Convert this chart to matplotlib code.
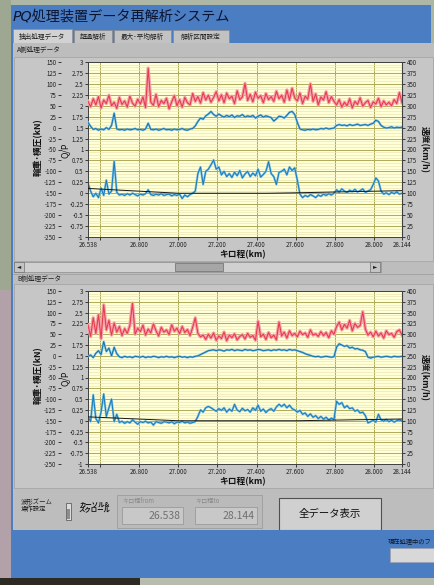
import numpy as np
import matplotlib
matplotlib.use("Agg")
import matplotlib.pyplot as plt
from matplotlib.patches import Rectangle

plt.rcParams['font.family'] = ['Noto Sans CJK JP', 'DejaVu Sans']
plt.rcParams['axes.unicode_minus'] = False

# ---- data ----
km_start, km_end = 26.538, 28.144
xtick_vals = [26.538, 26.6, 26.8, 27.0, 27.2, 27.4, 27.6, 27.8, 28.0, 28.144]
xtick_labels = ['26.538', '', '26.800', '27.000', '27.200', '27.400',
                '27.600', '27.800', '28.000', '28.144']

# A side: wheel load (kN), lateral force (kN), Q/P, speed (km/h)
a_red = [60, 48, 66, 52, 71, 45, 63, 55, 74, 50,
         58, 44, 69, 53, 61, 47, 72, 56, 49, 65,
         54, 70, 46, 136, 58, 51, 76, 48, 62, 55,
         67, 43, 59, 73, 50, 64, 47, 69, 57, 52,
         78, 60, 71, 56, 80, 63, 74, 58, 69, 82,
         61, 75, 57, 79, 66, 72, 55, 84, 64, 70,
         101, 62, 76, 59, 81, 67, 73, 57, 78, 64,
         71, 60, 83, 66, 74, 58, 86, 63, 90, 68,
         61, 79, 55, 72, 65, 100, 60, 77, 52, 70,
         63, 82, 57, 71, 60, 52, 64, 47, 58, 50,
         66, 45, 60, 53, 68, 49, 57, 62, 46, 59,
         54, 67, 48, 61, 52, 58, 50, 64, 55, 80, 57]
a_btop = [12, 3, -4, -2, -6, -3, -5, 0, -4, 5,
          33, -3, -5, -4, -6, -3, -5, -4, -2, -5,
          -4, -6, -3, 10, -4, -5, -3, -6, -4, -2,
          -5, -4, -6, -3, -5, -4, -2, -5, -6, -3,
          -2, 4, 14, 22, 19, 27, 31, 37, 30, 26,
          31, 27, 24, 28, 25, 29, 23, 27, 26, 30,
          24, 27, 25, 28, 22, 26, 29, 24, 27, 25,
          23, 15, 20, 26, 25, 22, 28, 35, 37, 30,
          12, -3, -5, -6, -4, -5, -3, -5, -4, -2,
          -3, -1, -3, -2, -1, 5, 7, 5, 6, 4,
          7, 5, 6, 8, 5, 6, 7, 5, 8, 10,
          17, 14, 5, 1, -1, 0, 2, -1, 1, 0, 1]
a_qp = [0.23, 0.05, -0.08, 0.0, -0.1, 0.12, -0.05, 0.3, -0.02, 0.05,
        0.73, 0.02, -0.04, -0.02, -0.05, -0.01, -0.04, 0.0, -0.03, -0.06,
        -0.02, -0.04, -0.01, 0.08, -0.03, -0.05, -0.02, -0.04, -0.01, -0.05,
        -0.03, -0.02, -0.06, -0.03, -0.05, -0.02, -0.12, -0.04, -0.08, -0.03,
        0.0, 0.05, 0.45, 0.6, 0.2, 0.5, 0.55, 0.65, 0.76, 0.55,
        0.6, 0.42, 0.5, 0.38, 0.45, 0.36, 0.48, 0.4, 0.52, 0.35,
        0.44, 0.5, 0.38, 0.46, 0.4, 0.55, 0.37, 0.43, 0.5, 0.72,
        0.45, 0.38, 0.2, 0.48, 0.5, 0.55, 0.42, 0.6, 0.52, 0.58,
        0.3, -0.02, -0.1, -0.05, -0.08, -0.03, -0.06, -0.1, -0.04, -0.07,
        -0.02, -0.05, -0.01, -0.04, 0.0, 0.08, 0.03, 0.1, 0.05, 0.02,
        0.07, 0.04, 0.09, 0.03, 0.06, 0.1, 0.02, 0.05, 0.08, 0.2,
        0.35, 0.28, 0.05, -0.02, 0.01, -0.03, 0.02, -0.01, 0.03, -0.02, 0.0]
speed_km = [26.538, 27.0, 27.45, 27.6, 28.144]
a_speed = [111, 100, 100, 101, 106]

# B side
b_red = [72, 45, 88, 52, 95, 40, 118, 60, 82, 48,
         76, 55, 68, 47, 63, 52, 70, 122, 50, 64,
         56, 71, 48, 62, 53, 74, 58, 46, 66, 55,
         60, 49, 72, 57, 64, 51, 68, 54, 61, 47,
         66, 88, 52, 44, 48, 38, 50, 41, 53, 36,
         46, 40, 55, 35, 48, 42, 51, 37, 45, 49,
         39, 52, 43, 47, 36, 80, 44, 50, 38, 54,
         42, 48, 37, 78, 46, 55, 41, 58, 47, 52,
         44, 57, 49, 53, 43, 60, 48, 51, 45, 56,
         47, 54, 42, 58, 50, 68, 78, 60, 73, 64,
         82, 58, 75, 66, 70, 102, 62, 48, 55, 44,
         57, 46, 53, 41, 58, 49, 52, 43, 56, 60, 48]
b_btop = [-1, 2, -4, 6, 12, 3, 33, 10, 18, 0,
          20, 5, -2, -4, -1, -3, -2, -4, -1, -2,
          -3, -1, -4, -2, -3, -1, -2, -4, -2, -3,
          -1, -3, -2, -4, -2, -1, -3, -2, -4, -2,
          -3, -1, 0, 3, 6, 9, 12, 13, 14, 12,
          14, 13, 11, 14, 13, 15, 12, 14, 13, 12,
          15, 13, 14, 12, 13, 15, 14, 12, 13, 14,
          12, 14, 13, 15, 13, 14, 12, 15, 13, 14,
          12, 10, 8, 5, 3, 1, -1, -2, -1, -3,
          -2, -1, -2, -3, -2, 20, 28, 25, 22, 24,
          18, 20, 16, 17, 14, 13, 10, -3, -5, -3,
          -2, -1, -3, -2, -1, -2, -3, -1, -2, -2, -1]
b_qp = [0.09, -0.02, 0.6, 0.05, -0.05, 0.2, 0.62, 0.1, 0.3, 0.5,
        -0.02, 0.15, -0.04, -0.01, -0.06, -0.02, -0.05, 0.02, -0.03, -0.08,
        -0.02, -0.04, -0.01, -0.05, -0.03, -0.1, -0.02, -0.04, -0.06, -0.02,
        -0.03, -0.05, -0.02, -0.07, -0.03, -0.04, -0.01, -0.05, -0.03, -0.06,
        -0.04, -0.02, 0.1, 0.25, 0.2, 0.3, 0.33, 0.3, 0.26, 0.22,
        0.28, 0.24, 0.3, 0.2, 0.27, 0.22, 0.38, 0.25, 0.21, 0.29,
        0.23, 0.26, 0.2, 0.3, 0.24, 0.36, 0.22, 0.27, 0.19, 0.25,
        0.28, 0.22, 0.32, 0.38, 0.33, 0.38, 0.3, 0.36, 0.28, 0.25,
        0.2, 0.24, 0.15, 0.18, 0.1, 0.16, 0.08, 0.12, 0.05, 0.1,
        0.04, 0.08, 0.02, 0.06, 0.03, 0.45, 0.38, 0.42, 0.3, 0.35,
        0.28, 0.3, 0.22, 0.25, 0.18, 0.2, 0.12, -0.05, -0.02, 0.01,
        -0.03, 0.15, 0.02, -0.01, 0.03, -0.02, 0.01, -0.03, 0.0, 0.02, -0.01]
b_speed = [109, 100, 100, 100, 104]

km = np.linspace(km_start, km_end, len(a_red))

W, H = 435, 585
fig = plt.figure(figsize=(W / 100, H / 100), dpi=100, facecolor='#bebebe')


def rect(x0, y0, x1, y1, fc, ec='none', lw=0.0, z=-10):
    # pixel box, origin top-left
    fig.add_artist(Rectangle((x0 / W, 1 - y1 / H), (x1 - x0) / W, (y1 - y0) / H,
                             transform=fig.transFigure, facecolor=fc,
                             edgecolor=ec, linewidth=lw, zorder=z))


def ptext(x, y, s, **kw):
    kw.setdefault('va', 'center')
    fig.text(x / W, 1 - y / H, s, **kw)


# ---- window chrome ----
rect(0, 0, 435, 5, '#aeb6a6')
rect(0, 0, 11, 290, '#9ea792')
rect(0, 290, 11, 585, '#b3a1a9')
rect(11, 5, 435, 43, '#4a7dc2')
rect(11, 5, 13, 580, '#4a7dc2')
rect(431, 0, 435, 43, '#a9b89d')
ptext(13, 16, 'PQ処理装置データ再解析システム', fontsize=10.2, style='italic',
      color='#0c1430', family=['DejaVu Sans', 'Noto Sans CJK JP'])

tabs = [(13, 72, '抽出処理データ'), (74, 112, '超過解析'),
        (114, 171, '最大･平均解析'), (173, 229, '解析区間設定')]
for i, (x0, x1, name) in enumerate(tabs):
    if i == 0:
        rect(x0, 29, x1, 44, '#d2d2d2', ec='#909090', lw=0.5)
    else:
        rect(x0, 30, x1, 43, '#c2c2c2', ec='#8a8a8a', lw=0.5)
    ptext((x0 + x1) / 2, 36.5, name, fontsize=4.8, ha='center', color='#202020')

rect(13, 43, 435, 530, '#bdbdbd')
ptext(17, 50, 'A側処理データ', fontsize=4.8, color='#202020')
rect(14, 57, 433, 261, '#c6c6c6', ec='#a0a0a0', lw=0.5)

# scrollbar under A
rect(14, 262, 381, 272, '#d0d0d0', ec='#8a8a8a', lw=0.5)
rect(14, 262, 24, 272, '#c4c4c4', ec='#707070', lw=0.5)
rect(370, 262, 380, 272, '#c4c4c4', ec='#707070', lw=0.5)
rect(175, 263, 223, 271, '#a6a6a6', ec='#6a6a6a', lw=0.5)
ptext(19, 267, '◄', fontsize=4, ha='center', color='#202020')
ptext(375, 267, '►', fontsize=4, ha='center', color='#202020')

rect(13, 274, 435, 275, '#a4a4a4')
ptext(17, 279, 'B側処理データ', fontsize=4.8, color='#202020')
rect(14, 284, 433, 488, '#c6c6c6', ec='#a0a0a0', lw=0.5)

# bottom controls
ptext(21, 502, '波形ズーム', fontsize=4.6, color='#202020')
ptext(21, 509, '操作設定', fontsize=4.6, color='#202020')
rect(66, 503, 71, 520, '#dcdcdc', ec='#606060', lw=0.6)
rect(67, 509, 70, 519, '#8c8c8c')
ptext(79, 504, 'カーソル&', fontsize=4.6, weight='bold', color='#101010')
ptext(79, 510, 'スクロール', fontsize=4.6, weight='bold', color='#101010')
rect(117, 495, 262, 528, '#bababa', ec='#9c9c9c', lw=0.6)
ptext(122, 501, 'キロ程from', fontsize=4.4, color='#8a8a8a')
ptext(195, 501, 'キロ程to', fontsize=4.4, color='#8a8a8a')
rect(122, 507, 183, 524, '#c8c8c8', ec='#9a9a9a', lw=0.6)
rect(195, 507, 257, 524, '#c8c8c8', ec='#9a9a9a', lw=0.6)
ptext(181, 516, '26.538', fontsize=7.5, ha='right', color='#707070')
ptext(255, 516, '28.144', fontsize=7.5, ha='right', color='#707070')
rect(279, 498, 381, 530, '#d0d0d0', ec='#505050', lw=0.8)
ptext(330, 514, '全データ表示', fontsize=7.5, ha='center', color='#101010')

rect(11, 530, 435, 578, '#4a7dc2')
ptext(388, 542, '現在処理中のフ', fontsize=4.5, color='#101828')
rect(390, 548, 436, 562, '#d8d8d8', ec='#9aa0b0', lw=0.5)
rect(0, 578, 435, 585, '#b7bcae')
rect(0, 578, 140, 585, '#2c2a22')


# ---- graphs ----
def qp_fmt(v):
    return '{:g}'.format(round(v, 2))


def draw_panel(top, bottom, red, btop, qp, speed):
    ax = fig.add_axes([88 / W, 1 - bottom / H, 314 / W, (bottom - top) / H])
    ax.set_facecolor('#ffffd8')
    ax.set_xlim(km_start, km_end)
    ax.set_ylim(-1, 3)
    ax.set_xticks(xtick_vals)
    ax.set_xticklabels(xtick_labels)
    qp_ticks = np.arange(-1, 3.001, 0.25)
    ax.set_yticks(qp_ticks)
    ax.set_yticklabels([qp_fmt(v) for v in qp_ticks])
    ax.set_yticks(np.arange(-1, 3.001, 0.0625), minor=True)
    ax.grid(which='major', color='#b0ab58', lw=0.7)
    ax.grid(which='minor', axis='y', color='#ebe6b4', lw=0.5)
    ax.tick_params(which='major', length=2.2, width=0.6, labelsize=4.4,
                   pad=1, colors='#202020')
    ax.tick_params(which='minor', length=0)
    for s in ax.spines.values():
        s.set_color('#404040')
        s.set_linewidth(0.7)
    ax.set_axisbelow(True)

    # outer left axis: kN
    kn = ax.twinx()
    kn.set_ylim(-250, 150)
    kn.yaxis.tick_left()
    kn.set_yticks(range(-250, 151, 25))
    kn.spines['left'].set_position(('outward', 19.5))
    kn.spines['left'].set_color('none')
    for s in ['top', 'bottom', 'right']:
        kn.spines[s].set_visible(False)
    kn.tick_params(length=2.2, width=0.6, labelsize=4.4, pad=1, colors='#202020')

    # right axis: speed
    sp = ax.twinx()
    sp.set_ylim(0, 400)
    sp.set_yticks(range(0, 401, 25))
    for s in ['top', 'bottom', 'left']:
        sp.spines[s].set_visible(False)
    sp.spines['right'].set_color('#404040')
    sp.tick_params(length=2.2, width=0.6, labelsize=4.4, pad=1, colors='#202020')

    ax.plot(km, qp, color='#7cc2ea', lw=1.6)
    ax.plot(km, qp, color='#1a7ab6', lw=0.7)
    kn.plot(km, red, color='#f5a3ab', lw=2.4)
    kn.plot(km, red, color='#e63c4e', lw=0.8)
    kn.plot(km, btop, color='#7cc2ea', lw=1.6)
    kn.plot(km, btop, color='#166fa8', lw=0.7)
    sp.plot(speed_km, speed, color='#151515', lw=0.7)

    mid = (top + bottom) / 2
    ptext(38, mid - 2, '輪重･横圧(kN)', fontsize=6.3, weight='bold',
          rotation=90, ha='center', color='#101010')
    ptext(65, mid + 1, 'Q/P', fontsize=6.3, rotation=90, ha='center',
          color='#101010')
    ptext(424, mid, '速度(km/h)', fontsize=6.3, weight='bold',
          rotation=270, ha='center', color='#101010')
    ptext(243, bottom + 18, 'キロ程(km)', fontsize=6.3, weight='bold',
          ha='center', color='#101010')


draw_panel(62, 237, a_red, a_btop, a_qp, a_speed)
draw_panel(291, 464, b_red, b_btop, b_qp, b_speed)

fig.savefig('out.png', dpi=100, facecolor=fig.get_facecolor())
